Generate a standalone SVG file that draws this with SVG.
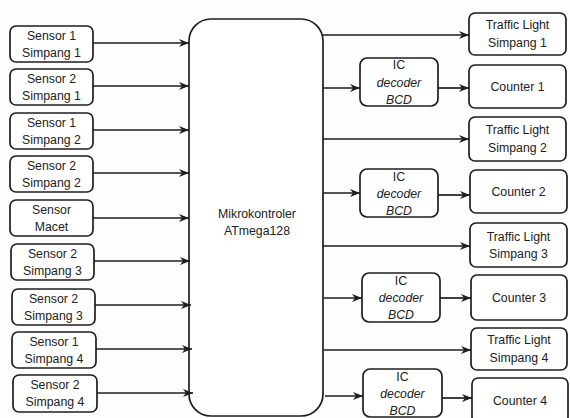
<svg xmlns="http://www.w3.org/2000/svg" width="570" height="418" viewBox="0 0 570 418">
<defs>
<marker id="ah" markerUnits="userSpaceOnUse" markerWidth="11" markerHeight="9" refX="10" refY="4.5" orient="auto">
<path d="M0,0.5 L10,4.5 L0,8.5 L3,4.5 z" fill="#1e1e1e"/>
</marker>
<style>
.b{fill:#fff;stroke:#1e1e1e;stroke-width:1.7}
.t{font-family:"Liberation Sans",Arial,sans-serif;font-size:12.3px;fill:#222;text-anchor:middle;dominant-baseline:central}
.i{font-style:italic}
.c line{stroke:#1e1e1e;stroke-width:1.7;marker-end:url(#ah)}
</style>
</defs>
<rect width="570" height="418" fill="#fdfdfd"/>
<g id="s1"><rect class="b" x="10" y="26" width="83" height="36" rx="6"/><text class="t" x="51.5" y="36">Sensor 1</text><text class="t" x="51.5" y="53">Simpang 1</text></g>
<g id="s2"><rect class="b" x="10" y="69" width="83" height="36" rx="6"/><text class="t" x="51.5" y="79">Sensor 2</text><text class="t" x="51.5" y="96">Simpang 1</text></g>
<g id="s3"><rect class="b" x="10" y="113" width="83" height="36" rx="6"/><text class="t" x="51.5" y="123">Sensor 1</text><text class="t" x="51.5" y="140">Simpang 2</text></g>
<g id="s4"><rect class="b" x="10" y="156" width="83" height="36" rx="6"/><text class="t" x="51.5" y="166">Sensor 2</text><text class="t" x="51.5" y="183">Simpang 2</text></g>
<g id="s5"><rect class="b" x="10" y="200" width="83" height="36" rx="6"/><text class="t" x="51.5" y="210">Sensor</text><text class="t" x="51.5" y="227">Macet</text></g>
<g id="s6"><rect class="b" x="11" y="244" width="83" height="36" rx="6"/><text class="t" x="52.5" y="254">Sensor 2</text><text class="t" x="52.5" y="271">Simpang 3</text></g>
<g id="s7"><rect class="b" x="12" y="289" width="83" height="36" rx="6"/><text class="t" x="53.5" y="299">Sensor 2</text><text class="t" x="53.5" y="316">Simpang 3</text></g>
<g id="s8"><rect class="b" x="12" y="332" width="84" height="36" rx="6"/><text class="t" x="54" y="342">Sensor 1</text><text class="t" x="54" y="359">Simpang 4</text></g>
<g id="s9"><rect class="b" x="13" y="375" width="84" height="37" rx="6"/><text class="t" x="55" y="385">Sensor 2</text><text class="t" x="55" y="402">Simpang 4</text></g>
<g id="mcu"><rect class="b" x="189" y="19" width="134" height="397" rx="22"/><text class="t" x="257" y="214">Mikrokontroler</text><text class="t" x="257" y="231">ATmega128</text></g>
<g id="tl1"><rect class="b" x="469" y="13" width="97" height="42" rx="6"/><text class="t" x="517.5" y="25">Traffic Light</text><text class="t" x="517.5" y="43">Simpang 1</text></g>
<g id="ic1"><rect class="b" x="360" y="58" width="78" height="48" rx="7"/><text class="t" x="399" y="65">IC</text><text class="t i" x="399" y="83">decoder</text><text class="t i" x="399" y="100">BCD</text></g>
<g id="c1"><rect class="b" x="469" y="65" width="97" height="43" rx="6"/><text class="t" x="517.5" y="87">Counter 1</text></g>
<g id="tl2"><rect class="b" x="469" y="117" width="97" height="44" rx="6"/><text class="t" x="517.5" y="130">Traffic Light</text><text class="t" x="517.5" y="148">Simpang 2</text></g>
<g id="ic2"><rect class="b" x="360" y="169" width="78" height="48" rx="7"/><text class="t" x="399" y="177">IC</text><text class="t i" x="399" y="194">decoder</text><text class="t i" x="399" y="211">BCD</text></g>
<g id="c2"><rect class="b" x="470" y="170" width="97" height="43" rx="6"/><text class="t" x="518.5" y="192">Counter 2</text></g>
<g id="tl3"><rect class="b" x="470" y="223" width="97" height="44" rx="6"/><text class="t" x="518.5" y="237">Traffic Light</text><text class="t" x="518.5" y="254">Simpang 3</text></g>
<g id="ic3"><rect class="b" x="362" y="273" width="78" height="49" rx="7"/><text class="t" x="401" y="281">IC</text><text class="t i" x="401" y="298">decoder</text><text class="t i" x="401" y="315">BCD</text></g>
<g id="c3"><rect class="b" x="471" y="275" width="96" height="45" rx="6"/><text class="t" x="519" y="298">Counter 3</text></g>
<g id="tl4"><rect class="b" x="471" y="328" width="96" height="42" rx="6"/><text class="t" x="519" y="340">Traffic Light</text><text class="t" x="519" y="358">Simpang 4</text></g>
<g id="ic4"><rect class="b" x="363" y="369" width="79" height="48" rx="7"/><text class="t" x="402.5" y="377">IC</text><text class="t i" x="402.5" y="394">decoder</text><text class="t i" x="402.5" y="411">BCD</text></g>
<g id="c4"><rect class="b" x="472" y="378" width="96" height="45" rx="6"/><text class="t" x="520" y="401">Counter 4</text></g>
<g id="connectors" class="c">
<line x1="93" y1="43" x2="189" y2="43"/>
<line x1="93" y1="86" x2="189" y2="86"/>
<line x1="93" y1="130" x2="189" y2="130"/>
<line x1="93" y1="173" x2="189" y2="173"/>
<line x1="93" y1="218" x2="189" y2="218"/>
<line x1="94" y1="261" x2="190" y2="261"/>
<line x1="95" y1="305" x2="191" y2="305"/>
<line x1="96" y1="349" x2="192" y2="349"/>
<line x1="97" y1="393" x2="193" y2="393"/>
<line x1="323" y1="35" x2="469" y2="35"/>
<line x1="323" y1="88" x2="360" y2="88"/>
<line x1="438" y1="88" x2="469" y2="88"/>
<line x1="323" y1="139" x2="469" y2="139"/>
<line x1="323" y1="193" x2="360" y2="193"/>
<line x1="438" y1="195" x2="470" y2="195"/>
<line x1="323" y1="246" x2="470" y2="246"/>
<line x1="324" y1="298" x2="362" y2="298"/>
<line x1="440" y1="298" x2="471" y2="298"/>
<line x1="324" y1="350" x2="471" y2="350"/>
<line x1="325" y1="396" x2="363" y2="396"/>
<line x1="442" y1="398" x2="472" y2="398"/>
</g>
</svg>
